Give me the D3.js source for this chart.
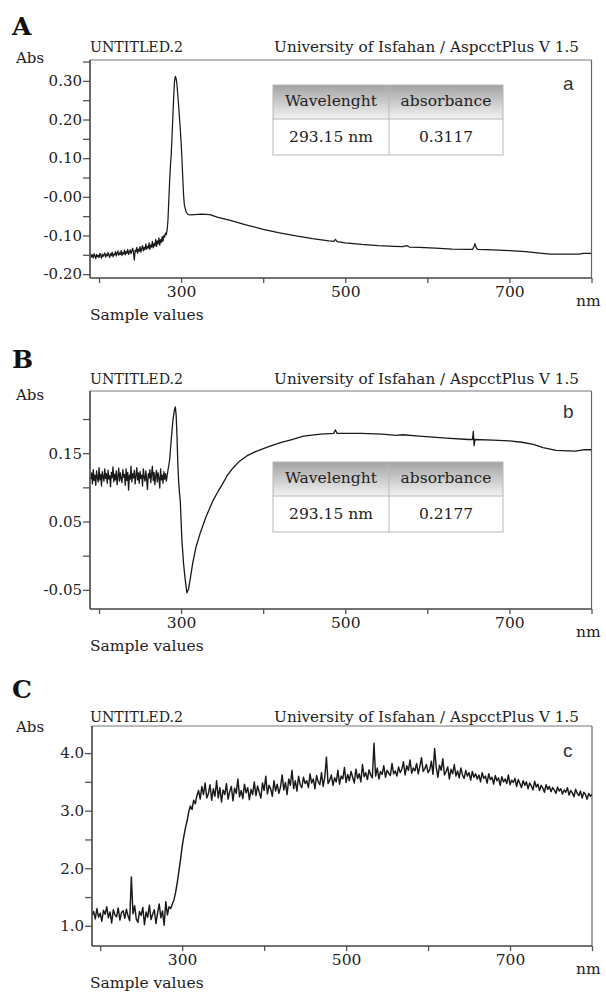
<!DOCTYPE html>
<html><head><meta charset="utf-8">
<script src="https://cdn.jsdelivr.net/npm/d3@7"></script>
<style>body{margin:0;background:#fff}</style>
</head><body><svg id="c" width="606" height="994"></svg>
<script>
// ---------------- DATA ----------------
const xMajor = [200,300,400,500,600,700,800];
const xLabeled = [300,500,700];
const tableHeader = ["Wavelenght","absorbance"];
const tableRowA = ["293.15 nm","0.3117"];
const tableRowB = ["293.15 nm","0.2177"];

const yMajorA = [0.30,0.20,0.10,0.00,-0.10,-0.20];
const yLabelsA = ["0.30","0.20","0.10","-0.00","-0.10","-0.20"];
const yMinorA = [0.35,0.25,0.15,0.05,-0.05,-0.15];
const yMajorB = [0.15,0.05,-0.05];
const yLabelsB = ["0.15","0.05","-0.05"];
const yMinorB = [0.20,0.10,0.00];
const yMajorC = [4.0,3.0,2.0,1.0];
const yLabelsC = ["4.0","3.0","2.0","1.0"];
const yMinorC = [3.5,2.5,1.5];

// Spectrum A (wavelength nm, absorbance)
const wlA = [190,191,192,193,194,195,196,197,198,199,
200,201,202,203,204,205,206,207,208,209,
210,211,212,213,214,215,216,217,218,219,
220,221,222,223,224,225,226,227,228,229,
230,231,232,233,234,235,236,237,238,239,
240,241,242,243,244,245,246,247,248,249,
250,251,252,253,254,255,256,257,258,259,
260,261,262,263,264,265,266,267,268,269,
270,271,272,273,274,275,276,277,278,279,
280,281,282,283,284,285,
286,287,288,289,290,291,292,293,294,295,
296,297,298,299,300,301,302,303,304,306,
308,311,316,325,335,345,360,380,400,420,
440,460,480,486,488,490,500,520,540,560,
570,575,578,590,610,630,650,655,657,658,
659,661,680,700,720,740,750,770,785,790,800];
const absA = [-0.148,-0.156,-0.150,-0.158,-0.147,-0.153,-0.160,-0.149,-0.155,-0.151,
-0.157,-0.146,-0.152,-0.159,-0.148,-0.154,-0.150,-0.145,-0.156,-0.149,
-0.153,-0.144,-0.151,-0.157,-0.147,-0.152,-0.143,-0.155,-0.148,-0.150,
-0.142,-0.153,-0.146,-0.140,-0.151,-0.145,-0.149,-0.139,-0.152,-0.144,
-0.148,-0.138,-0.150,-0.141,-0.146,-0.136,-0.149,-0.143,-0.137,-0.147,
-0.140,-0.133,-0.145,-0.163,-0.138,-0.142,-0.131,-0.146,-0.135,-0.141,
-0.129,-0.143,-0.134,-0.126,-0.140,-0.131,-0.137,-0.122,-0.135,-0.128,
-0.133,-0.119,-0.136,-0.124,-0.130,-0.115,-0.132,-0.121,-0.127,-0.110,
-0.128,-0.114,-0.122,-0.106,-0.125,-0.111,-0.118,-0.103,-0.115,-0.100,
-0.104,-0.094,-0.098,-0.085,-0.060,-0.010,
0.040,0.080,0.110,0.160,0.210,0.260,0.300,0.3117,0.305,0.290,
0.262,0.235,0.205,0.175,0.140,0.100,0.050,0.005,-0.022,-0.038,
-0.045,-0.047,-0.046,-0.045,-0.046,-0.053,-0.061,-0.073,-0.084,-0.093,
-0.101,-0.108,-0.114,-0.115,-0.110,-0.116,-0.119,-0.123,-0.126,-0.128,
-0.129,-0.126,-0.130,-0.131,-0.133,-0.135,-0.136,-0.136,-0.128,-0.121,
-0.129,-0.136,-0.137,-0.139,-0.142,-0.146,-0.148,-0.148,-0.148,-0.146,-0.146];

// Spectrum B
const wlB = [190,191,192,193,194,195,196,197,198,199,
200,201,202,203,204,205,206,207,208,209,
210,211,212,213,214,215,216,217,218,219,
220,221,222,223,224,225,226,227,228,229,
230,231,232,233,234,235,236,237,238,239,
240,241,242,243,244,245,246,247,248,249,
250,251,252,253,254,255,256,257,258,259,
260,261,262,263,264,265,266,267,268,269,
270,271,272,273,274,275,276,277,278,279,
280,281,282,283,284,
286,288,290,292,293,294,295,296,297,298,
299,301,303,305,307,309,311,314,318,323,
330,339,345,350,356,363,370,380,390,405,
420,435,449,470,486,488,490,520,545,562,
570,590,623,650,655,656,657,658,680,700,
715,729,741,757,780,790,800];
const absB = [0.112,0.121,0.105,0.126,0.110,0.118,0.103,0.124,0.114,0.108,
0.129,0.111,0.119,0.102,0.123,0.115,0.109,0.127,0.113,0.120,
0.106,0.125,0.112,0.117,0.101,0.122,0.114,0.130,0.108,0.119,
0.111,0.124,0.104,0.116,0.128,0.109,0.121,0.113,0.107,0.126,
0.115,0.119,0.103,0.127,0.110,0.122,0.096,0.118,0.112,0.131,
0.108,0.120,0.114,0.125,0.105,0.117,0.129,0.111,0.121,0.106,
0.123,0.113,0.118,0.102,0.127,0.115,0.109,0.124,0.112,0.097,
0.120,0.114,0.126,0.107,0.119,0.131,0.110,0.122,0.104,0.116,
0.125,0.108,0.121,0.113,0.099,0.127,0.111,0.118,0.106,0.123,
0.112,0.120,0.109,0.117,0.125,
0.140,0.170,0.198,0.214,0.2177,0.205,0.175,0.135,0.108,0.092,
0.080,0.022,-0.012,-0.035,-0.054,-0.049,-0.035,-0.012,0.012,0.032,
0.056,0.081,0.094,0.104,0.117,0.128,0.137,0.146,0.152,0.159,
0.165,0.170,0.175,0.178,0.179,0.184,0.179,0.179,0.178,0.176,
0.177,0.175,0.172,0.170,0.170,0.182,0.161,0.170,0.169,0.168,
0.166,0.163,0.158,0.154,0.153,0.155,0.155];

// Spectrum C
const wlC = [190,192,194,196,198,200,202,204,206,208,
210,212,214,216,218,220,222,224,226,228,
230,232,234,236,238,240,242,244,246,248,
250,252,254,256,258,260,262,264,266,268,
270,272,274,276,278,280,282,284,286,288,
290,292,294,296,298,300,302,304,306,308,
310,312,314,316,318,320,322,324,326,328,330,
332,334,336,338,340,342,344,346,348,350,
352,354,356,358,360,362,364,366,368,370,
372,374,376,378,380,382,384,386,388,390,
392,394,396,398,400,402,404,406,408,410,
412,414,416,418,420,422,424,426,428,430,
432,434,436,438,440,442,444,446,448,450,
452,454,456,458,460,462,464,466,468,470,
472,474,476,478,480,482,484,486,488,490,
492,494,496,498,500,502,504,506,508,510,
512,514,516,518,520,522,524,526,528,530,
532,534,536,538,540,542,544,546,548,550,
552,554,556,558,560,
562,564,566,568,570,572,574,576,578,580,
582,584,586,588,590,592,594,596,598,600,
602,604,606,608,610,612,614,616,618,620,
622,624,626,628,630,632,634,636,638,640,
642,644,646,648,650,652,654,656,658,660,
662,664,666,668,670,672,674,676,678,680,
682,684,686,688,690,692,694,696,698,700,
702,704,706,708,710,712,714,716,718,720,
722,724,726,728,730,732,734,736,738,740,
742,744,746,748,750,752,754,756,758,760,
762,764,766,768,770,772,774,776,778,780,
782,784,786,788,790,792,794,796,798,800];
const absC = [1.18,1.25,1.12,1.30,1.15,1.22,1.08,1.27,1.20,1.33,
1.14,1.24,1.05,1.28,1.19,1.16,1.31,1.10,1.23,1.26,
1.13,1.29,1.17,1.09,1.85,1.21,1.35,1.12,1.06,1.25,
1.18,1.32,1.02,1.24,1.15,1.36,1.11,1.20,1.28,1.04,
1.22,1.38,1.14,1.26,1.01,1.42,1.19,1.33,1.30,1.38,
1.45,1.58,1.75,1.95,2.15,2.38,2.55,2.70,2.82,2.98,
3.08,3.02,3.18,3.12,3.26,3.35,3.20,3.42,3.28,3.48,3.22,
3.30,3.45,3.18,3.38,3.25,3.52,3.22,3.40,3.15,3.36,
3.28,3.47,3.20,3.33,3.42,3.17,3.39,3.30,3.55,3.24,
3.35,3.21,3.46,3.31,3.40,3.19,3.37,3.28,3.50,3.26,
3.43,3.32,3.22,3.48,3.35,3.60,3.29,3.44,3.38,3.25,
3.52,3.34,3.46,3.30,3.41,3.62,3.36,3.49,3.28,3.55,
3.44,3.70,3.38,3.52,3.34,3.60,3.45,3.40,3.58,3.47,
3.52,3.40,3.64,3.48,3.55,3.38,3.61,3.50,3.45,3.66,
3.42,3.58,3.93,3.47,3.53,3.62,3.44,3.57,3.50,3.70,
3.46,3.60,3.55,3.75,3.49,3.63,3.52,3.68,3.58,3.48,
3.72,3.56,3.64,3.50,3.80,3.59,3.66,3.54,3.71,3.62,
3.57,4.17,3.60,3.74,3.55,3.68,3.63,3.78,3.58,3.70,
3.65,3.61,3.82,3.64,3.69,
3.60,3.76,3.66,3.72,3.85,3.62,3.78,3.70,3.88,3.65,
3.74,3.69,3.82,3.64,3.77,3.92,3.68,3.73,3.80,3.66,
3.71,3.86,3.63,4.08,3.75,3.58,3.79,3.70,3.90,3.62,
3.68,3.76,3.55,3.72,3.64,3.80,3.60,3.69,3.57,3.74,
3.62,3.56,3.70,3.60,3.66,3.53,3.68,3.58,3.64,3.55,
3.62,3.50,3.66,3.56,3.60,3.48,3.64,3.54,3.58,3.46,
3.61,3.52,3.57,3.44,3.59,3.50,3.55,3.47,3.62,3.45,
3.53,3.49,3.56,3.42,3.54,3.47,3.40,3.52,3.44,3.50,
3.38,3.48,3.43,3.36,3.51,3.41,3.46,3.35,3.44,3.39,
3.32,3.45,3.37,3.42,3.33,3.40,3.36,3.30,3.41,3.34,
3.38,3.29,3.36,3.32,3.40,3.27,3.35,3.31,3.24,3.37,
3.30,3.26,3.34,3.22,3.32,3.28,3.20,3.30,3.25,3.28];

// ---------------- DRAWING ----------------
const svg = d3.select("#c");
svg.append("rect").attr("width",606).attr("height",994).attr("fill","#fff");
const serif = "'DejaVu Serif', serif";
const sans = "'Liberation Sans', Arial, sans-serif";
const textCol = "#222";

const defs = svg.append("defs");
const grad = defs.append("linearGradient").attr("id","hdr").attr("x1",0).attr("y1",0).attr("x2",0).attr("y2",1);
grad.append("stop").attr("offset","0%").attr("stop-color","#a3a3a3");
grad.append("stop").attr("offset","100%").attr("stop-color","#f2f2f2");

const panels = [
  {letter:"A", tag:"a", wl:wlA, ab:absA, xDom:[189,800], yDom:[-0.21,0.354],
   yMajor:yMajorA, yLabels:yLabelsA, yMinor:yMinorA, row:tableRowA, lw:1.25,
   L:90, R:591.5, T:60, B:278, letterY:35, titleY:52, absY:63, tagY:90,
   tbl:{x:273, y:85, w:230, split:116, h1:34, h2:36}},
  {letter:"B", tag:"b", wl:wlB, ab:absB, xDom:[189,800], yDom:[-0.078,0.241],
   yMajor:yMajorB, yLabels:yLabelsB, yMinor:yMinorB, row:tableRowB, lw:1.3,
   L:90, R:591.5, T:391, B:609, letterY:368, titleY:384, absY:400, tagY:418,
   tbl:{x:273, y:462, w:230, split:116, h1:34, h2:36}},
  {letter:"C", tag:"c", wl:wlC, ab:absC, xDom:[190,800], yDom:[0.65,4.47],
   yMajor:yMajorC, yLabels:yLabelsC, yMinor:yMinorC, row:null, lw:1.45,
   L:92, R:592, T:726, B:946, letterY:698, titleY:722, absY:732, tagY:757,
   tbl:null}
];

panels.forEach((p, pi) => {
  const g = svg.append("g");
  const x = d3.scaleLinear().domain(p.xDom).range([p.L, p.R]);
  const y = d3.scaleLinear().domain(p.yDom).range([p.B, p.T]);

  // panel letter
  g.append("text").attr("x",12).attr("y",p.letterY).text(p.letter)
    .attr("font-family",serif).attr("font-weight","bold").attr("font-size",25).attr("fill","#111");
  // headers
  g.append("text").attr("x",90).attr("y",p.titleY).text("UNTITLED.2")
    .attr("font-family",serif).attr("font-size",14.2).attr("fill",textCol);
  g.append("text").attr("x",579).attr("y",p.titleY).attr("text-anchor","end")
    .text("University of Isfahan / AspcctPlus V 1.5")
    .attr("font-family",serif).attr("font-size",15.2).attr("fill",textCol);
  g.append("text").attr("x",16).attr("y",p.absY).text("Abs")
    .attr("font-family",serif).attr("font-size",15).attr("fill",textCol);

  // frame top & right
  g.append("line").attr("x1",p.L).attr("x2",p.R).attr("y1",p.T).attr("y2",p.T)
    .attr("stroke","#777").attr("stroke-width",1);
  g.append("line").attr("x1",p.R).attr("x2",p.R).attr("y1",p.T).attr("y2",p.B)
    .attr("stroke","#666").attr("stroke-width",1.2);

  // data line
  const clipId = "clip"+pi;
  defs.append("clipPath").attr("id",clipId).append("rect")
    .attr("x",p.L).attr("y",p.T).attr("width",p.R-p.L).attr("height",p.B-p.T);
  const idx = d3.range(p.wl.length);
  const line = d3.line().x(i => x(p.wl[i])).y(i => y(p.ab[i]));
  g.append("path").attr("clip-path",`url(#${clipId})`).attr("d", line(idx))
    .attr("fill","none").attr("stroke","#1a1a1a").attr("stroke-width",p.lw)
    .attr("stroke-linejoin","round");

  // y axis
  const yAx = g.append("g").attr("transform",`translate(${p.L},0)`)
    .call(d3.axisLeft(y).tickValues(p.yMajor).tickFormat((d,i)=>p.yLabels[i]).tickSize(7).tickSizeOuter(0).tickPadding(1));
  yAx.select(".domain").remove();
  yAx.selectAll("line").attr("stroke","#555").attr("stroke-width",1.3);
  yAx.selectAll("text").attr("font-family",serif).attr("font-size",15).attr("fill",textCol);
  const yMin = g.append("g").attr("transform",`translate(${p.L},0)`)
    .call(d3.axisLeft(y).tickValues(p.yMinor).tickFormat("").tickSize(7).tickSizeOuter(0));
  yMin.select(".domain").remove();
  yMin.selectAll("line").attr("stroke","#555").attr("stroke-width",1.3);
  g.append("line").attr("x1",p.L).attr("x2",p.L).attr("y1",p.T).attr("y2",p.B)
    .attr("stroke","#444").attr("stroke-width",1.6);

  // x axis
  const xAx = g.append("g").attr("transform",`translate(0,${p.B})`)
    .call(d3.axisBottom(x).tickValues(xMajor).tickFormat(d => xLabeled.includes(d) ? String(d) : "")
      .tickSize(5).tickSizeOuter(0).tickPadding(3));
  xAx.select(".domain").remove();
  xAx.selectAll("line").attr("stroke","#555").attr("stroke-width",1.3);
  xAx.selectAll("text").attr("font-family",serif).attr("font-size",15.5).attr("fill",textCol);
  g.append("line").attr("x1",p.L).attr("x2",p.R).attr("y1",p.B).attr("y2",p.B)
    .attr("stroke","#444").attr("stroke-width",1.6);

  g.append("text").attr("x",576).attr("y",p.B+28).text("nm")
    .attr("font-family",serif).attr("font-size",15.5).attr("fill",textCol);
  g.append("text").attr("x",90).attr("y",p.B+42).text("Sample values")
    .attr("font-family",serif).attr("font-size",15.5).attr("fill",textCol);

  // tag letter
  g.append("text").attr("x",563).attr("y",p.tagY).text(p.tag)
    .attr("font-family",sans).attr("font-size",19).attr("fill","#333");

  // table
  if (p.tbl) {
    const t = p.tbl;
    g.append("rect").attr("x",t.x).attr("y",t.y).attr("width",t.w).attr("height",t.h1)
      .attr("fill","url(#hdr)");
    g.append("rect").attr("x",t.x).attr("y",t.y+t.h1).attr("width",t.w).attr("height",t.h2)
      .attr("fill","#fff");
    g.append("rect").attr("x",t.x).attr("y",t.y).attr("width",t.w).attr("height",t.h1+t.h2)
      .attr("fill","none").attr("stroke","#b8b8b8").attr("stroke-width",1);
    g.append("line").attr("x1",t.x).attr("x2",t.x+t.w).attr("y1",t.y+t.h1).attr("y2",t.y+t.h1)
      .attr("stroke","#b8b8b8");
    g.append("line").attr("x1",t.x+t.split).attr("x2",t.x+t.split).attr("y1",t.y).attr("y2",t.y+t.h1+t.h2)
      .attr("stroke","#b8b8b8");
    const cx = [t.x + t.split/2, t.x + t.split + (t.w-t.split)/2];
    tableHeader.forEach((s,i)=>{
      g.append("text").attr("x",cx[i]).attr("y",t.y+21).attr("text-anchor","middle").text(s)
        .attr("font-family",serif).attr("font-size",15.5).attr("fill",textCol);
    });
    p.row.forEach((s,i)=>{
      g.append("text").attr("x",cx[i]).attr("y",t.y+t.h1+23).attr("text-anchor","middle").text(s)
        .attr("font-family",serif).attr("font-size",15.5).attr("fill",textCol);
    });
  }
});
</script>
</body></html>
